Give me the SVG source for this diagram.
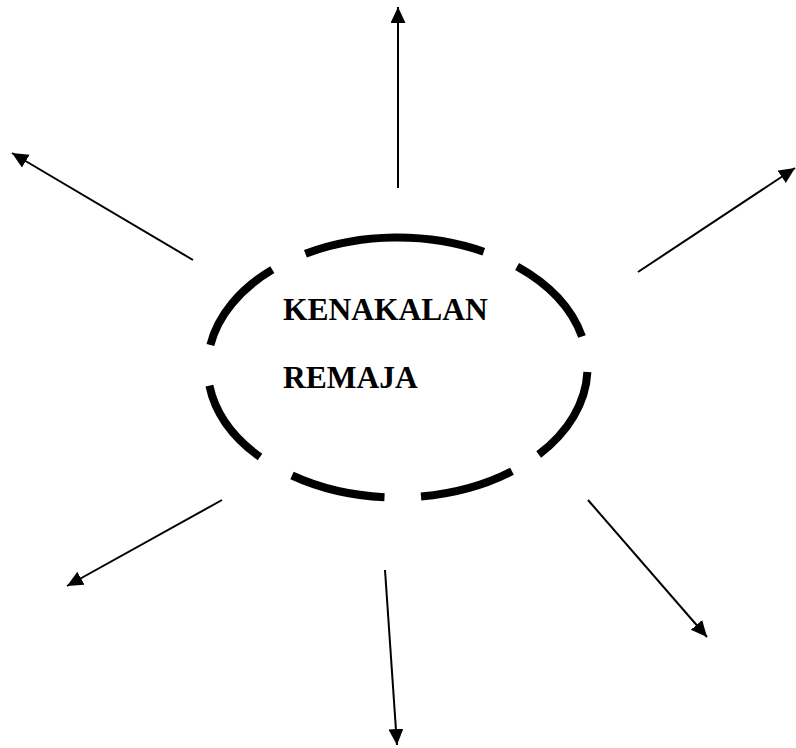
<svg xmlns="http://www.w3.org/2000/svg" width="796" height="748" viewBox="0 0 796 748">
<style>
.dash{fill:none;stroke:#000;stroke-width:8;stroke-linecap:butt}
.conn{stroke:#000;stroke-width:2;fill:none}
.lbl{font-family:"Liberation Serif","Times New Roman",serif;font-weight:bold;font-size:31.5px;fill:#000}
</style>
<defs>
<marker id="ah" markerUnits="userSpaceOnUse" markerWidth="18" markerHeight="16" refX="16" refY="7.5" orient="auto">
<path d="M0,0 L16,7.5 L0,15 z" fill="#000"/>
</marker>
</defs>
<rect width="796" height="748" fill="#fff"/>
<g id="center-node">
<path class="dash" d="M305.4,253.8 A190,130 0 0 1 483.8,251.7"/>
<path class="dash" d="M517.1,266.5 A190,130 0 0 1 582.0,336.5"/>
<path class="dash" d="M587.4,372.0 A190,130 0 0 1 538.7,454.5"/>
<path class="dash" d="M512.0,471.3 A190,130 0 0 1 421.0,496.5"/>
<path class="dash" d="M384.5,497.2 A190,130 0 0 1 292.0,475.5"/>
<path class="dash" d="M260.0,457.0 A190,130 0 0 1 209.4,385.6"/>
<path class="dash" d="M210.4,344.9 A190,130 0 0 1 272.3,269.6"/>
<text class="lbl" x="283" y="320">KENAKALAN</text>
<text class="lbl" x="283" y="388">REMAJA</text>
</g>
<g id="connectors">
<line class="conn" x1="398" y1="188" x2="398" y2="7" marker-end="url(#ah)"/>
<line class="conn" x1="193" y1="260" x2="12" y2="153" marker-end="url(#ah)"/>
<line class="conn" x1="638" y1="272" x2="795" y2="168" marker-end="url(#ah)"/>
<line class="conn" x1="222" y1="500" x2="67" y2="586" marker-end="url(#ah)"/>
<line class="conn" x1="588" y1="500" x2="707" y2="637" marker-end="url(#ah)"/>
<line class="conn" x1="385" y1="570" x2="397" y2="745" marker-end="url(#ah)"/>
</g>
</svg>
